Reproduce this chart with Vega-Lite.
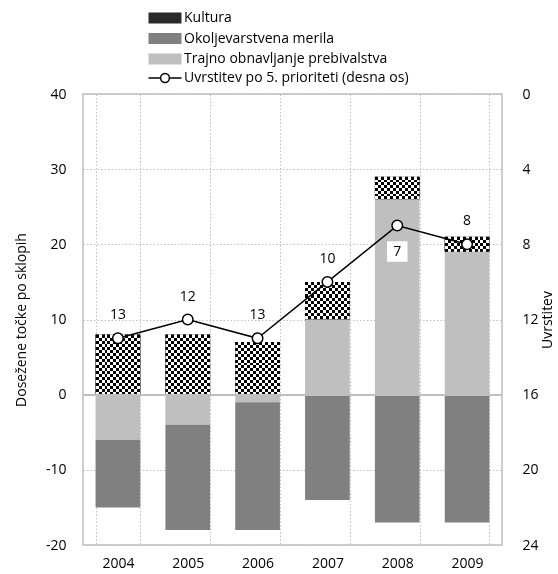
{
  "$schema": "https://vega.github.io/schema/vega-lite/v6.json",
  "width": 419,
  "height": 451,
  "autosize": {"type": "none"},
  "padding": {"left": 83, "top": 94, "right": 56, "bottom": 29},
  "config": {
    "font": "Open Sans",
    "view": {"stroke": "#bfbfbf", "strokeWidth": 1.5},
    "axis": {"labelFont": "Open Sans", "labelFontSize": 14, "labelColor": "#000", "titleFont": "Open Sans", "titleFontSize": 14, "titleFontWeight": "normal", "titleColor": "#000", "ticks": false, "domain": false, "gridColor": "#bfbfbf", "gridDash": [1.5, 2], "gridWidth": 1},
    "legend": {"labelFont": "Open Sans", "labelFontSize": 14, "labelColor": "#000", "labelLimit": 0}
  },
  "datasets": {
    "bars": [
      {"year": "2004", "sklop": "Kultura", "value": 8},
      {"year": "2004", "sklop": "Trajno obnavljanje prebivalstva", "value": -6},
      {"year": "2004", "sklop": "Okoljevarstvena merila", "value": -9},
      {"year": "2005", "sklop": "Kultura", "value": 8},
      {"year": "2005", "sklop": "Trajno obnavljanje prebivalstva", "value": -4},
      {"year": "2005", "sklop": "Okoljevarstvena merila", "value": -14},
      {"year": "2006", "sklop": "Kultura", "value": 7},
      {"year": "2006", "sklop": "Trajno obnavljanje prebivalstva", "value": -1},
      {"year": "2006", "sklop": "Okoljevarstvena merila", "value": -17},
      {"year": "2007", "sklop": "Kultura", "value": 5},
      {"year": "2007", "sklop": "Trajno obnavljanje prebivalstva", "value": 10},
      {"year": "2007", "sklop": "Okoljevarstvena merila", "value": -14},
      {"year": "2008", "sklop": "Kultura", "value": 3},
      {"year": "2008", "sklop": "Trajno obnavljanje prebivalstva", "value": 26},
      {"year": "2008", "sklop": "Okoljevarstvena merila", "value": -17},
      {"year": "2009", "sklop": "Kultura", "value": 2},
      {"year": "2009", "sklop": "Trajno obnavljanje prebivalstva", "value": 19},
      {"year": "2009", "sklop": "Okoljevarstvena merila", "value": -17}
    ],
    "rank": [
      {"year": "2004", "rank": 13},
      {"year": "2005", "rank": 12},
      {"year": "2006", "rank": 13},
      {"year": "2007", "rank": 10},
      {"year": "2008", "rank": 7},
      {"year": "2009", "rank": 8}
    ]
  },
  "layer": [
    {
      "data": {"name": "bars"},
      "encoding": {
        "x": {"field": "year", "type": "nominal", "title": null,
              "scale": {"paddingInner": 0.36, "paddingOuter": 0.18},
              "axis": {"labelAngle": 0, "labelPadding": 11, "grid": true, "tickBand": "extent"}},
        "y": {"field": "value", "type": "quantitative", "stack": "zero",
              "scale": {"domain": [-20, 40], "nice": false, "zero": false},
              "axis": {"values": [-20, -10, 0, 10, 20, 30, 40], "labelExpr": "toString(datum.value)", "grid": true, "labelPadding": 17, "title": "Dosežene točke po sklopih", "titlePadding": 17}},
        "detail": {"field": "sklop", "type": "nominal"},
        "order": {"field": "sklop", "sort": "descending"}
      },
      "layer": [
        {
          "mark": {"type": "bar"},
          "encoding": {
            "fill": {"field": "sklop", "type": "nominal",
                     "scale": {"domain": ["Kultura", "Okoljevarstvena merila", "Trajno obnavljanje prebivalstva"],
                               "range": ["#2a2a2a", "#808080", "#bfbfbf"]},
                     "legend": {"title": null, "orient": "none", "legendX": 75, "legendY": -83,
                                "symbolType": "M-3,-1H3V1H-3Z", "symbolSize": 121, "symbolStrokeWidth": 0,
                                "labelOffset": 12, "rowPadding": 6.5,
                                "encode": {"symbols": {"update": {"fill": [
                                  {"test": "datum.value === 'Kultura'", "value": {"gradient": "linear", "x1": 0, "y1": 0, "x2": 1, "y2": 0, "stops": [
                                    {"offset": 0, "color": "#000"}, {"offset": 0.0909, "color": "#000"},
                                    {"offset": 0.0909, "color": "#fff"}, {"offset": 0.1818, "color": "#fff"},
                                    {"offset": 0.1818, "color": "#000"}, {"offset": 0.2727, "color": "#000"},
                                    {"offset": 0.2727, "color": "#fff"}, {"offset": 0.3636, "color": "#fff"},
                                    {"offset": 0.3636, "color": "#000"}, {"offset": 0.4545, "color": "#000"},
                                    {"offset": 0.4545, "color": "#fff"}, {"offset": 0.5455, "color": "#fff"},
                                    {"offset": 0.5455, "color": "#000"}, {"offset": 0.6364, "color": "#000"},
                                    {"offset": 0.6364, "color": "#fff"}, {"offset": 0.7273, "color": "#fff"},
                                    {"offset": 0.7273, "color": "#000"}, {"offset": 0.8182, "color": "#000"},
                                    {"offset": 0.8182, "color": "#fff"}, {"offset": 0.9091, "color": "#fff"},
                                    {"offset": 0.9091, "color": "#000"}, {"offset": 1, "color": "#000"}
                                  ]}},
                                  {"scale": "fill", "field": "value"}
                                ]}}}}}
          }
        },
        {
          "mark": {"type": "bar", "fill": {"gradient": "linear", "x1": 0, "y1": 0, "x2": 1, "y2": 0, "stops": [
            {"offset": 0, "color": "#000"}, {"offset": 0.0667, "color": "#000"},
            {"offset": 0.0667, "color": "#fff"}, {"offset": 0.1333, "color": "#fff"},
            {"offset": 0.1333, "color": "#000"}, {"offset": 0.2, "color": "#000"},
            {"offset": 0.2, "color": "#fff"}, {"offset": 0.2667, "color": "#fff"},
            {"offset": 0.2667, "color": "#000"}, {"offset": 0.3333, "color": "#000"},
            {"offset": 0.3333, "color": "#fff"}, {"offset": 0.4, "color": "#fff"},
            {"offset": 0.4, "color": "#000"}, {"offset": 0.4667, "color": "#000"},
            {"offset": 0.4667, "color": "#fff"}, {"offset": 0.5333, "color": "#fff"},
            {"offset": 0.5333, "color": "#000"}, {"offset": 0.6, "color": "#000"},
            {"offset": 0.6, "color": "#fff"}, {"offset": 0.6667, "color": "#fff"},
            {"offset": 0.6667, "color": "#000"}, {"offset": 0.7333, "color": "#000"},
            {"offset": 0.7333, "color": "#fff"}, {"offset": 0.8, "color": "#fff"},
            {"offset": 0.8, "color": "#000"}, {"offset": 0.8667, "color": "#000"},
            {"offset": 0.8667, "color": "#fff"}, {"offset": 0.9333, "color": "#fff"},
            {"offset": 0.9333, "color": "#000"}, {"offset": 1, "color": "#000"}
          ]}},
          "encoding": {
            "fillOpacity": {"condition": {"test": "datum.sklop == 'Kultura'", "value": 1}, "value": 0}
          }
        },
        {
          "mark": {"type": "bar", "blend": "difference", "fill": {"gradient": "linear", "x1": 0, "y1": 0, "x2": 0, "y2": 1, "stops": [
            {"offset": 0, "color": "rgba(255,255,255,0)"}, {"offset": 0.05, "color": "rgba(255,255,255,0)"},
            {"offset": 0.05, "color": "#fff"}, {"offset": 0.1, "color": "#fff"},
            {"offset": 0.1, "color": "rgba(255,255,255,0)"}, {"offset": 0.15, "color": "rgba(255,255,255,0)"},
            {"offset": 0.15, "color": "#fff"}, {"offset": 0.2, "color": "#fff"},
            {"offset": 0.2, "color": "rgba(255,255,255,0)"}, {"offset": 0.25, "color": "rgba(255,255,255,0)"},
            {"offset": 0.25, "color": "#fff"}, {"offset": 0.3, "color": "#fff"},
            {"offset": 0.3, "color": "rgba(255,255,255,0)"}, {"offset": 0.35, "color": "rgba(255,255,255,0)"},
            {"offset": 0.35, "color": "#fff"}, {"offset": 0.4, "color": "#fff"},
            {"offset": 0.4, "color": "rgba(255,255,255,0)"}, {"offset": 0.45, "color": "rgba(255,255,255,0)"},
            {"offset": 0.45, "color": "#fff"}, {"offset": 0.5, "color": "#fff"},
            {"offset": 0.5, "color": "rgba(255,255,255,0)"}, {"offset": 0.55, "color": "rgba(255,255,255,0)"},
            {"offset": 0.55, "color": "#fff"}, {"offset": 0.6, "color": "#fff"},
            {"offset": 0.6, "color": "rgba(255,255,255,0)"}, {"offset": 0.65, "color": "rgba(255,255,255,0)"},
            {"offset": 0.65, "color": "#fff"}, {"offset": 0.7, "color": "#fff"},
            {"offset": 0.7, "color": "rgba(255,255,255,0)"}, {"offset": 0.75, "color": "rgba(255,255,255,0)"},
            {"offset": 0.75, "color": "#fff"}, {"offset": 0.8, "color": "#fff"},
            {"offset": 0.8, "color": "rgba(255,255,255,0)"}, {"offset": 0.85, "color": "rgba(255,255,255,0)"},
            {"offset": 0.85, "color": "#fff"}, {"offset": 0.9, "color": "#fff"},
            {"offset": 0.9, "color": "rgba(255,255,255,0)"}, {"offset": 0.95, "color": "rgba(255,255,255,0)"},
            {"offset": 0.95, "color": "#fff"}, {"offset": 1, "color": "#fff"}
          ]}},
          "encoding": {
            "fillOpacity": {"condition": {"test": "datum.sklop == 'Kultura' && (datum.year == '2004' || datum.year == '2005')", "value": 1}, "value": 0}
          }
        },
        {
          "mark": {"type": "bar", "blend": "difference", "fill": {"gradient": "linear", "x1": 0, "y1": 0, "x2": 0, "y2": 1, "stops": [
            {"offset": 0, "color": "rgba(255,255,255,0)"}, {"offset": 0.0556, "color": "rgba(255,255,255,0)"},
            {"offset": 0.0556, "color": "#fff"}, {"offset": 0.1111, "color": "#fff"},
            {"offset": 0.1111, "color": "rgba(255,255,255,0)"}, {"offset": 0.1667, "color": "rgba(255,255,255,0)"},
            {"offset": 0.1667, "color": "#fff"}, {"offset": 0.2222, "color": "#fff"},
            {"offset": 0.2222, "color": "rgba(255,255,255,0)"}, {"offset": 0.2778, "color": "rgba(255,255,255,0)"},
            {"offset": 0.2778, "color": "#fff"}, {"offset": 0.3333, "color": "#fff"},
            {"offset": 0.3333, "color": "rgba(255,255,255,0)"}, {"offset": 0.3889, "color": "rgba(255,255,255,0)"},
            {"offset": 0.3889, "color": "#fff"}, {"offset": 0.4444, "color": "#fff"},
            {"offset": 0.4444, "color": "rgba(255,255,255,0)"}, {"offset": 0.5, "color": "rgba(255,255,255,0)"},
            {"offset": 0.5, "color": "#fff"}, {"offset": 0.5556, "color": "#fff"},
            {"offset": 0.5556, "color": "rgba(255,255,255,0)"}, {"offset": 0.6111, "color": "rgba(255,255,255,0)"},
            {"offset": 0.6111, "color": "#fff"}, {"offset": 0.6667, "color": "#fff"},
            {"offset": 0.6667, "color": "rgba(255,255,255,0)"}, {"offset": 0.7222, "color": "rgba(255,255,255,0)"},
            {"offset": 0.7222, "color": "#fff"}, {"offset": 0.7778, "color": "#fff"},
            {"offset": 0.7778, "color": "rgba(255,255,255,0)"}, {"offset": 0.8333, "color": "rgba(255,255,255,0)"},
            {"offset": 0.8333, "color": "#fff"}, {"offset": 0.8889, "color": "#fff"},
            {"offset": 0.8889, "color": "rgba(255,255,255,0)"}, {"offset": 0.9444, "color": "rgba(255,255,255,0)"},
            {"offset": 0.9444, "color": "#fff"}, {"offset": 1, "color": "#fff"}
          ]}},
          "encoding": {
            "fillOpacity": {"condition": {"test": "datum.sklop == 'Kultura' && datum.year == '2006'", "value": 1}, "value": 0}
          }
        },
        {
          "mark": {"type": "bar", "blend": "difference", "fill": {"gradient": "linear", "x1": 0, "y1": 0, "x2": 0, "y2": 1, "stops": [
            {"offset": 0, "color": "rgba(255,255,255,0)"}, {"offset": 0.0833, "color": "rgba(255,255,255,0)"},
            {"offset": 0.0833, "color": "#fff"}, {"offset": 0.1667, "color": "#fff"},
            {"offset": 0.1667, "color": "rgba(255,255,255,0)"}, {"offset": 0.25, "color": "rgba(255,255,255,0)"},
            {"offset": 0.25, "color": "#fff"}, {"offset": 0.3333, "color": "#fff"},
            {"offset": 0.3333, "color": "rgba(255,255,255,0)"}, {"offset": 0.4167, "color": "rgba(255,255,255,0)"},
            {"offset": 0.4167, "color": "#fff"}, {"offset": 0.5, "color": "#fff"},
            {"offset": 0.5, "color": "rgba(255,255,255,0)"}, {"offset": 0.5833, "color": "rgba(255,255,255,0)"},
            {"offset": 0.5833, "color": "#fff"}, {"offset": 0.6667, "color": "#fff"},
            {"offset": 0.6667, "color": "rgba(255,255,255,0)"}, {"offset": 0.75, "color": "rgba(255,255,255,0)"},
            {"offset": 0.75, "color": "#fff"}, {"offset": 0.8333, "color": "#fff"},
            {"offset": 0.8333, "color": "rgba(255,255,255,0)"}, {"offset": 0.9167, "color": "rgba(255,255,255,0)"},
            {"offset": 0.9167, "color": "#fff"}, {"offset": 1, "color": "#fff"}
          ]}},
          "encoding": {
            "fillOpacity": {"condition": {"test": "datum.sklop == 'Kultura' && datum.year == '2007'", "value": 1}, "value": 0}
          }
        },
        {
          "mark": {"type": "bar", "blend": "difference", "fill": {"gradient": "linear", "x1": 0, "y1": 0, "x2": 0, "y2": 1, "stops": [
            {"offset": 0, "color": "rgba(255,255,255,0)"}, {"offset": 0.125, "color": "rgba(255,255,255,0)"},
            {"offset": 0.125, "color": "#fff"}, {"offset": 0.25, "color": "#fff"},
            {"offset": 0.25, "color": "rgba(255,255,255,0)"}, {"offset": 0.375, "color": "rgba(255,255,255,0)"},
            {"offset": 0.375, "color": "#fff"}, {"offset": 0.5, "color": "#fff"},
            {"offset": 0.5, "color": "rgba(255,255,255,0)"}, {"offset": 0.625, "color": "rgba(255,255,255,0)"},
            {"offset": 0.625, "color": "#fff"}, {"offset": 0.75, "color": "#fff"},
            {"offset": 0.75, "color": "rgba(255,255,255,0)"}, {"offset": 0.875, "color": "rgba(255,255,255,0)"},
            {"offset": 0.875, "color": "#fff"}, {"offset": 1, "color": "#fff"}
          ]}},
          "encoding": {
            "fillOpacity": {"condition": {"test": "datum.sklop == 'Kultura' && datum.year == '2008'", "value": 1}, "value": 0}
          }
        },
        {
          "mark": {"type": "bar", "blend": "difference", "fill": {"gradient": "linear", "x1": 0, "y1": 0, "x2": 0, "y2": 1, "stops": [
            {"offset": 0, "color": "rgba(255,255,255,0)"}, {"offset": 0.2, "color": "rgba(255,255,255,0)"},
            {"offset": 0.2, "color": "#fff"}, {"offset": 0.4, "color": "#fff"},
            {"offset": 0.4, "color": "rgba(255,255,255,0)"}, {"offset": 0.6, "color": "rgba(255,255,255,0)"},
            {"offset": 0.6, "color": "#fff"}, {"offset": 0.8, "color": "#fff"},
            {"offset": 0.8, "color": "rgba(255,255,255,0)"}, {"offset": 1, "color": "rgba(255,255,255,0)"}
          ]}},
          "encoding": {
            "fillOpacity": {"condition": {"test": "datum.sklop == 'Kultura' && datum.year == '2009'", "value": 1}, "value": 0}
          }
        },
        {
          "mark": {"type": "rule", "color": "#bfbfbf", "strokeWidth": 1.5},
          "encoding": {"y": {"datum": 0, "type": "quantitative"}, "x": null, "detail": null, "order": null}
        }
      ]
    },
    {
      "data": {"name": "rank"},
      "encoding": {
        "x": {"field": "year", "type": "nominal"},
        "y": {"field": "rank", "type": "quantitative",
              "scale": {"domain": [0, 24], "reverse": true, "nice": false, "zero": false},
              "axis": {"orient": "right", "values": [0, 4, 8, 12, 16, 20, 24], "grid": false, "labelPadding": 20, "title": "Uvrstitev", "titleAngle": 270, "titleBaseline": "top", "titlePadding": 2}}
      },
      "layer": [
        {
          "mark": {"type": "line", "strokeWidth": 1.5},
          "encoding": {
            "stroke": {"datum": "Uvrstitev po 5. prioriteti (desna os)", "type": "nominal",
                       "scale": {"range": ["#000"]},
                       "legend": {"title": null, "orient": "none", "legendX": 75, "legendY": -23,
                                  "symbolType": "M-3,0H-0.8M0.8,0H3M-0.8,0A0.8,0.8,0,1,1,0.8,0A0.8,0.8,0,1,1,-0.8,0",
                                  "symbolSize": 121, "symbolStrokeWidth": 1.5, "symbolFillColor": "#fff",
                                  "labelOffset": 12}}
          }
        },
        {
          "transform": [{"filter": "datum.year == '2007'"}],
          "mark": {"type": "point", "shape": "square", "filled": true, "color": "#fff", "opacity": 1, "size": 420, "yOffset": -23}
        },
        {
          "transform": [{"filter": "datum.year == '2008'"}],
          "mark": {"type": "point", "shape": "square", "filled": true, "color": "#fff", "opacity": 1, "size": 420, "yOffset": 26}
        },
        {
          "mark": {"type": "point", "filled": true, "fill": "#fff", "stroke": "#000", "strokeWidth": 1.5, "opacity": 1, "size": 110}
        },
        {
          "transform": [{"filter": "datum.year != '2008'"}],
          "mark": {"type": "text", "dy": -23, "fontSize": 14, "font": "Open Sans", "color": "#000"},
          "encoding": {"text": {"field": "rank"}}
        },
        {
          "transform": [{"filter": "datum.year == '2008'"}],
          "mark": {"type": "text", "dy": 26, "fontSize": 14, "font": "Open Sans", "color": "#000"},
          "encoding": {"text": {"field": "rank"}}
        }
      ]
    }
  ],
  "resolve": {"scale": {"y": "independent"}}
}
